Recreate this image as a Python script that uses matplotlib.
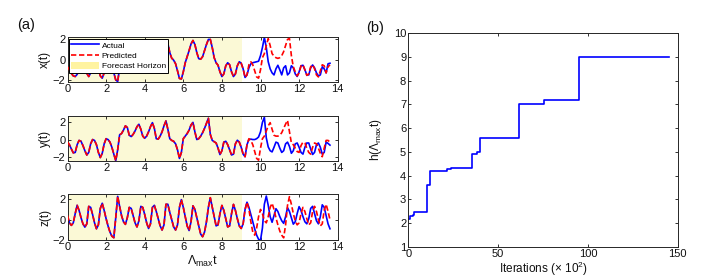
import numpy as np
import matplotlib
matplotlib.use("Agg")
import matplotlib.pyplot as plt
from matplotlib.patches import Patch
from matplotlib.lines import Line2D

plt.rcParams['font.family'] = ['Liberation Sans', 'DejaVu Sans']
plt.rcParams['mathtext.fontset'] = 'custom'
plt.rcParams['mathtext.rm'] = 'Liberation Sans'
plt.rcParams['mathtext.it'] = 'Liberation Sans:italic'

# ---------------- data: panel (a) ----------------
dt = 0.1
x_actual = [-0.7, -1.0, -1.35, -1.6, -1.66, -1.45, -0.9, -0.4, -0.35, -0.7,
            -1.35, -1.66, -1.3, -0.6, -0.25, -0.35, -0.9, -1.6, -1.82, -1.3,
            -0.5, -0.15, -0.2, -0.6, -1.3, -2.0, -2.15, -0.8, 0.5, 1.2,
            1.5, 1.3, 0.8, 0.55, 0.7, 1.1, 1.55, 1.7, 1.4, 0.8,
            0.45, 0.6, 1.1, 1.6, 1.85, 1.6, 0.9, 0.35, 0.5, 1.0,
            1.6, 1.95, 1.6, 0.7, 0.15, -0.05, -0.4, -1.1, -1.85, -1.9,
            -1.2, -0.3, 0.3, 0.9, 1.55, 1.9, 1.5, 0.7, 0.1, 0.05,
            0.3, 0.9, 1.5, 2.0, 2.0, 1.2, 0.2, -0.3, -0.55, -1.2,
            -1.66, -1.4, -0.6, -0.3, -0.5, -1.2, -1.66, -1.4, -0.6, -0.2,
            -0.35, -0.9, -1.75, -1.5, -0.8, -0.4, -0.3, -0.25, -0.2, -0.15,
            0.4, 1.2, 2.2, 1.2, -0.2, -0.9, -1.3, -1.5, -0.9, -0.55,
            -1.0, -1.5, -0.8, -0.6, -1.5, -1.3, -0.6, -0.8, -1.4, -1.65,
            -1.2, -0.6, -0.55, -1.0, -1.5, -1.5, -0.8, -0.52, -0.8, -1.3,
            -1.6, -1.5, -0.7, -0.9, -1.3, -0.4, -0.35]
x_pred_tail = [-1.5, -0.5, -0.2, -0.5, -1.1, -1.7, -1.82, -1.0, 0.2, 0.6,
               1.4, 2.08, 1.4, 0.6, 0.35, 0.2, 0.13, 0.2, 0.4, 0.8,
               1.4, 2.0, 2.1, 0.4, -0.7, -1.2, -1.6, -1.3, -0.6, -0.5,
               -1.0, -1.55, -1.4, -0.7, -0.5, -0.9, -1.5, -1.7, -1.1, -0.5,
               -0.6, -1.3, -0.7, -0.5]

y_actual = [-0.28, -0.6, -1.1, -1.55, -1.5, -0.6, -0.1, -0.2, -0.7, -1.3,
            -1.8, -1.5, -0.5, 0.0, -0.1, -0.6, -1.5, -2.1, -1.6, -0.5,
            0.1, 0.0, -0.3, -0.9, -1.7, -2.45, -1.2, 0.55, 0.7, 1.1,
            1.6, 1.4, 0.5, 0.35, 0.6, 1.0, 1.5, 1.78, 1.2, 0.4,
            0.15, 0.4, 0.9, 1.5, 1.97, 1.3, 0.1, 0.05, 0.4, 0.9,
            1.6, 2.17, 1.2, 0.1, -0.1, -0.2, -0.5, -1.2, -2.2, -1.5,
            0.1, 0.4, 0.7, 1.1, 1.7, 2.0, 0.9, 0.0, 0.1, 0.4,
            0.8, 1.3, 1.9, 2.48, 0.6, -0.1, -0.25, -0.4, -1.0, -1.75,
            -1.3, -0.3, -0.2, -0.6, -1.2, -1.8, -1.7, -0.5, -0.08, -0.3,
            -0.9, -1.7, -2.0, -0.6, 0.0, 0.05, 0.0, 0.0, 0.1, 0.3,
            0.9, 2.0, 2.6, 0.2, -0.86, -1.3, -1.44, -0.9, -0.3, -0.4,
            -1.0, -1.5, -1.3, -0.5, -0.3, -0.8, -1.6, -1.3, -0.5, -0.4,
            -0.9, -1.5, -1.7, -0.9, -0.4, -0.4, -1.1, -1.74, -1.5, -0.6,
            -0.4, -0.9, -1.7, -1.5, -0.3, -0.45, -0.65]
y_pred_tail = [-0.6, 0.1, -0.1, -0.6, -1.4, -2.2, -2.4, -1.0, 0.1, 0.4,
               1.0, 1.6, 1.97, 1.2, 0.5, 0.4, 0.4, 0.5, 0.8, 1.3,
               1.8, 2.24, 0.9, -0.4, -0.6, -1.0, -1.4, -1.5, -0.7, -0.3,
               -0.4, -1.0, -1.5, -1.7, -0.9, -0.4, -0.5, -1.0, -1.6, -2.0,
               -1.0, -0.1, -0.1, -0.3]

z_actual = [0.42, -0.3, -0.55, -0.3, 0.6, 1.4, 0.9, 0.2, -0.4, -0.72,
            -0.4, 1.3, 1.2, 0.5, -0.3, -0.88, -0.5, 1.1, 1.6, 0.9,
            0.1, -0.6, -1.2, -1.6, -1.75, 0.2, 2.27, 1.3, 0.4, -0.2,
            -0.45, 0.2, 1.2, 1.1, 0.4, -0.3, -0.7, -0.1, 1.3, 1.2,
            0.5, -0.3, -0.85, -0.4, 1.2, 1.4, 0.8, 0.1, -0.6, -1.0,
            -0.5, 1.5, 1.5, 0.7, 0.0, -0.7, -1.0, -0.5, 1.2, 1.95,
            1.2, 0.3, -0.6, -1.05, -0.2, 1.35, 1.0, 0.2, -0.6, -1.4,
            -1.65, -1.2, -0.2, 1.2, 2.14, 1.2, 0.3, -0.6, -0.5, 0.6,
            1.39, 0.9, 0.1, -0.7, -0.6, 0.6, 1.49, 0.9, 0.1, -0.6,
            -0.85, -0.4, 1.0, 1.7, 1.2, 0.5, -0.2, -0.9, -1.5, -1.9,
            -2.0, -0.8, 1.5, 2.3, 1.4, 0.3, -0.25, 0.4, 1.07, 0.8,
            0.3, -0.1, -0.35, 0.3, 1.17, 0.8, 0.2, -0.43, -0.2, 0.6,
            1.27, 0.9, 0.3, -0.2, -0.4, 0.1, 1.1, 1.3, 0.6, -0.1,
            -0.4, 0.3, 1.45, 1.2, 0.4, -0.4, -0.88]
z_pred_tail = [1.7, 1.0, -0.2, -1.2, -1.5, -0.8, 0.3, 1.0, 0.6, -0.1,
               -0.3, 0.3, 1.2, 1.6, 1.0, 0.2, -0.5, -1.1, -1.5, -1.76,
               -0.5, 1.4, 2.24, 1.5, 0.6, -0.1, -0.5, -0.3, 0.6, 1.2,
               0.8, 0.1, -0.5, -0.3, 0.8, 1.3, 0.8, 0.0, -0.6, -0.4,
               0.9, 1.5, 0.8, 0.0]

split = 93  # index where predicted is listed separately (t = 9.3)
horizon = 9.03
panel_ylims = [(-2.2, 2.27), (-2.5, 2.78), (-2.0, 2.47)]
ylabels = ['x(t)', 'y(t)', 'z(t)']

# ---------------- data: panel (b) ----------------
iters = [0, 0.8, 2.5, 3.3, 10.3, 12.0, 21.5, 24.0, 35.5, 38.0, 40.2, 52.0,
         61.5, 70.5, 75.5, 95.2, 145.0]
horizon_h = [2.15, 2.3, 2.35, 2.48, 3.62, 4.2, 4.27, 4.3, 4.9, 5.0, 5.57, 5.6,
             7.0, 7.02, 7.17, 9.0, 9.0]

# ---------------- figure ----------------
fig = plt.figure(figsize=(7.06, 2.80), dpi=100)
W, H = 706.0, 280.0

def ax_at(x0, y0, x1, y1):
    return fig.add_axes([x0 / W, 1 - y1 / H, (x1 - x0) / W, (y1 - y0) / H])

boxes = [(67.5, 36.7, 337.7, 82.0), (67.5, 115.7, 337.7, 161.0), (67.5, 194.3, 337.7, 240.3)]
actuals = [x_actual, y_actual, z_actual]
tails = [x_pred_tail, y_pred_tail, z_pred_tail]

blue = '#0000ff'
red = '#ff0000'
shade = '#fbf9d6'
tick_fs = 8
edge = '#262626'
txt = '#111111'

for k in range(3):
    ax = ax_at(*boxes[k])
    act = np.array(actuals[k])
    t = np.arange(len(act)) * dt
    pred = np.concatenate([act[:split], np.array(tails[k])])
    tp = np.arange(len(pred)) * dt
    ax.axvspan(0, horizon, color=shade, lw=0, zorder=0)
    ax.plot(t, act, color=blue, lw=1.2, zorder=2)
    ax.plot(tp, pred, color=red, lw=1.2, ls=(0, (3.2, 1.6)), zorder=3)
    ax.set_xlim(0, 14)
    ax.set_ylim(*panel_ylims[k])
    ax.set_xticks(range(0, 15, 2))
    ax.set_yticks([-2, 0, 2])
    ax.tick_params(direction='in', top=True, right=True, length=2.5, width=0.6,
                   labelsize=tick_fs, pad=1.5, colors=txt)
    for s in ax.spines.values():
        s.set_linewidth(0.7)
        s.set_color(edge)
    ax.set_ylabel(ylabels[k], fontsize=8.5, labelpad=1, color=txt)
    if k == 2:
        ax.set_xlabel(r'$\Lambda_{\rm max}$t', fontsize=9, labelpad=1, color=txt)
    if k == 0:
        handles = [Line2D([], [], color=blue, lw=1.2),
                   Line2D([], [], color=red, lw=1.2, ls=(0, (3.2, 1.6))),
                   Patch(facecolor='#fff3a0', edgecolor='none')]
        leg = ax.legend(handles, ['Actual', 'Predicted', 'Forecast Horizon'],
                        loc='upper left', bbox_to_anchor=(0.005, 0.945),
                        borderaxespad=0, fontsize=6, handlelength=3.4,
                        handleheight=0.9, labelspacing=0.25, handletextpad=0.3,
                        borderpad=0.25, fancybox=False, framealpha=1,
                        edgecolor='#000000')
        leg.get_frame().set_linewidth(0.7)
        leg.set_zorder(5)

fig.text(26 / W, 1 - 25 / H, '(a)', fontsize=10.5, ha='center', va='center', color=txt)

# panel (b)
axb = ax_at(408.3, 33.3, 677.7, 246.7)
axb.plot(iters, horizon_h, color=blue, lw=1.2, drawstyle='steps-post')
axb.set_xlim(0, 150)
axb.set_ylim(1, 10)
axb.set_xticks([0, 50, 100, 150])
axb.set_yticks(range(1, 11))
axb.tick_params(direction='in', top=True, right=True, length=2.5, width=0.6,
                labelsize=tick_fs, pad=1.5, colors=txt)
for s in axb.spines.values():
    s.set_linewidth(0.7)
    s.set_color(edge)
axb.set_ylabel(r'h($\Lambda_{\rm max}$t)', fontsize=8.5, labelpad=7, color=txt)
axb.set_xlabel(r'Iterations ($\times$ 10$^2$)', fontsize=8.5, labelpad=0.5, color=txt)
fig.text(375 / W, 1 - 28 / H, '(b)', fontsize=10.5, ha='center', va='center', color=txt)

fig.savefig('out.png', dpi=100)
